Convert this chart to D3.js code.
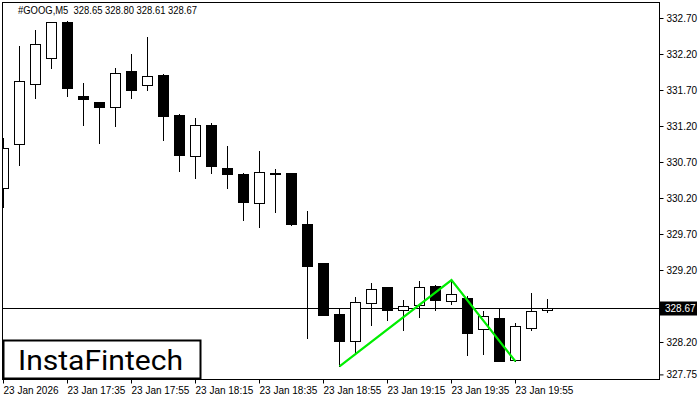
<!DOCTYPE html>
<html>
<head>
<meta charset="utf-8">
<script src="https://cdn.jsdelivr.net/npm/d3@7"></script>
<style>
  body { margin: 0; background: #fff; }
  svg { display: block; font-family: "Liberation Sans", Arial, sans-serif; }
</style>
</head>
<body>
<svg id="chart" width="700" height="400"></svg>
<script>
// Candle data, 5 minute bars from 23 Jan 17:15
var opens  = [330.34, 330.95, 331.79, 332.14, 332.65, 331.62, 331.53, 331.47, 331.96, 331.77,
              331.91, 331.35, 330.78, 331.21, 330.61, 330.53, 330.13, 330.55, 330.55, 329.84,
              329.30, 328.59, 328.22, 328.74, 328.96, 328.64, 328.72, 328.98, 328.77, 328.81,
              328.38, 328.53, 327.95, 328.40, 328.65];
var highs  = [331.03, 332.31, 332.53, 332.65, 332.66, 331.80, 331.54, 332.01, 332.20, 332.44,
              331.92, 331.36, 331.31, 331.24, 330.92, 330.55, 330.85, 330.60, 330.55, 330.02,
              329.30, 328.67, 328.83, 329.02, 328.97, 328.79, 329.05, 328.99, 329.06, 328.84,
              328.63, 328.67, 328.46, 328.88, 328.80];
var lows   = [330.08, 330.66, 331.59, 332.01, 331.62, 331.22, 330.96, 331.20, 331.59, 331.70,
              331.01, 330.57, 330.48, 330.55, 330.34, 329.89, 329.80, 330.01, 329.82, 328.26,
              328.57, 327.86, 328.06, 328.43, 328.50, 328.37, 328.55, 328.65, 328.73, 328.02,
              328.04, 327.93, 327.94, 328.37, 328.61];
var closes = [330.90, 331.82, 332.34, 332.64, 331.73, 331.57, 331.46, 331.93, 331.70, 331.89,
              331.34, 330.80, 331.22, 330.64, 330.54, 330.14, 330.56, 330.54, 329.84, 329.26,
              328.58, 328.22, 328.75, 328.93, 328.65, 328.70, 328.96, 328.79, 328.86, 328.32,
              328.56, 327.93, 328.42, 328.63, 328.67];

// Double top pattern (bar index, price)
var patternBars   = [21, 28, 32];
var patternPrices = [327.86, 329.06, 327.93];

var currentPrice = 328.67;
var title = '#GOOG,M5  328.65 328.80 328.61 328.67';

// 328.70 sits under the current price marker, so its label is left out
var priceTicks = [332.70, 332.20, 331.70, 331.20, 330.70, 330.20, 329.70, 329.20, 328.70, 328.20, 327.75];
var hiddenTick = 328.70;
var timeTickBars = [0, 4, 8, 12, 16, 20, 24, 28, 32];
var timeTickLabels = ['23 Jan 2026', '23 Jan 17:35', '23 Jan 17:55', '23 Jan 18:15', '23 Jan 18:35',
                      '23 Jan 18:55', '23 Jan 19:15', '23 Jan 19:35', '23 Jan 19:55'];

var plot = { left: 2.5, top: 2.5, right: 659.5, bottom: 379.5 };
var bodyHalf = 5;

var svg = d3.select('#chart');

var x = d3.scaleLinear()
  .domain([0, 34])
  .range([3.5, 547.5]);

var y = d3.scaleLinear()
  .domain([327.75, 332.70])
  .range([374.4, 18]);

var candles = opens.map(function (o, i) {
  return { i: i, open: o, high: highs[i], low: lows[i], close: closes[i] };
});

svg.append('defs')
  .append('clipPath')
  .attr('id', 'plot-clip')
  .append('rect')
  .attr('x', plot.left)
  .attr('y', plot.top)
  .attr('width', plot.right - plot.left)
  .attr('height', plot.bottom - plot.top);

var inner = svg.append('g').attr('clip-path', 'url(#plot-clip)');

// Current price line
inner.append('line')
  .attr('x1', plot.left)
  .attr('x2', plot.right)
  .attr('y1', Math.round(y(currentPrice)) + 0.5)
  .attr('y2', Math.round(y(currentPrice)) + 0.5)
  .attr('stroke', '#000')
  .attr('stroke-width', 1);

var candle = inner.selectAll('.candle')
  .data(candles)
  .enter()
  .append('g')
  .classed('candle', true);

// Wicks
candle.append('line')
  .attr('x1', function (d) { return x(d.i); })
  .attr('x2', function (d) { return x(d.i); })
  .attr('y1', function (d) { return Math.round(y(d.high)); })
  .attr('y2', function (d) { return Math.round(y(d.low)) + 1; })
  .attr('stroke', '#000')
  .attr('stroke-width', 1);

// Bodies
candle.append('rect')
  .attr('x', function (d) { return x(d.i) - bodyHalf; })
  .attr('y', function (d) { return Math.round(y(Math.max(d.open, d.close))) + 0.5; })
  .attr('width', bodyHalf * 2)
  .attr('height', function (d) {
    return Math.max(1, Math.round(y(Math.min(d.open, d.close))) - Math.round(y(Math.max(d.open, d.close))));
  })
  .attr('fill', function (d) { return d.close >= d.open ? '#fff' : '#000'; })
  .attr('stroke', '#000')
  .attr('stroke-width', 1);

// Pattern line
var patternLine = d3.line()
  .x(function (d) { return x(d[0]); })
  .y(function (d) { return y(d[1]); });

inner.append('path')
  .datum(d3.zip(patternBars, patternPrices))
  .attr('d', patternLine)
  .attr('fill', 'none')
  .attr('stroke', '#00ee00')
  .attr('stroke-width', 2.2);

// Frame
svg.append('rect')
  .attr('x', plot.left)
  .attr('y', plot.top)
  .attr('width', plot.right - plot.left)
  .attr('height', plot.bottom - plot.top)
  .attr('fill', 'none')
  .attr('stroke', '#000')
  .attr('stroke-width', 1);

// Right price axis
var priceAxis = d3.axisRight(y)
  .tickValues(priceTicks)
  .tickSize(4)
  .tickPadding(3)
  .tickFormat(function (d) { return d === hiddenTick ? '' : d3.format('.2f')(d); });

var yAxisG = svg.append('g')
  .attr('transform', 'translate(' + plot.right + ',0)')
  .call(priceAxis);
yAxisG.select('.domain').remove();
yAxisG.selectAll('text')
  .attr('font-family', '"Liberation Sans", Arial, sans-serif')
  .attr('font-size', 10)
  .attr('fill', '#000');

// Current price marker
var cy = Math.round(y(currentPrice)) + 0.5;
svg.append('rect')
  .attr('x', 660)
  .attr('y', cy - 7)
  .attr('width', 37)
  .attr('height', 14)
  .attr('fill', '#000');
svg.append('text')
  .attr('x', 665)
  .attr('y', cy)
  .attr('dy', '0.35em')
  .attr('font-size', 10)
  .attr('fill', '#fff')
  .text(currentPrice.toFixed(2));

// Bottom time axis
var timeAxis = d3.axisBottom(x)
  .tickValues(timeTickBars)
  .tickSize(4)
  .tickPadding(3)
  .tickFormat(function (d) { return timeTickLabels[timeTickBars.indexOf(d)]; });

var xAxisG = svg.append('g')
  .attr('transform', 'translate(-0.5,' + plot.bottom + ')')
  .call(timeAxis);
xAxisG.select('.domain').remove();
xAxisG.selectAll('text')
  .attr('text-anchor', 'start')
  .attr('font-family', '"Liberation Sans", Arial, sans-serif')
  .attr('font-size', 10)
  .attr('fill', '#000');

// Title
svg.append('text')
  .attr('x', 18)
  .attr('y', 14)
  .attr('font-size', 10)
  .attr('textLength', 179)
  .attr('lengthAdjust', 'spacingAndGlyphs')
  .style('white-space', 'pre')
  .attr('fill', '#000')
  .text(title);

// Logo
svg.append('rect')
  .attr('x', 3.5)
  .attr('y', 340.5)
  .attr('width', 197)
  .attr('height', 38)
  .attr('fill', '#fff')
  .attr('stroke', '#000')
  .attr('stroke-width', 2);
svg.append('text')
  .attr('x', 18)
  .attr('y', 370)
  .attr('font-family', 'Roboto, "Noto Sans", sans-serif')
  .attr('font-weight', 400)
  .attr('font-size', 27)
  .attr('textLength', 165)
  .attr('lengthAdjust', 'spacingAndGlyphs')
  .attr('fill', '#000')
  .text('InstaFintech');
</script>
</body>
</html>
